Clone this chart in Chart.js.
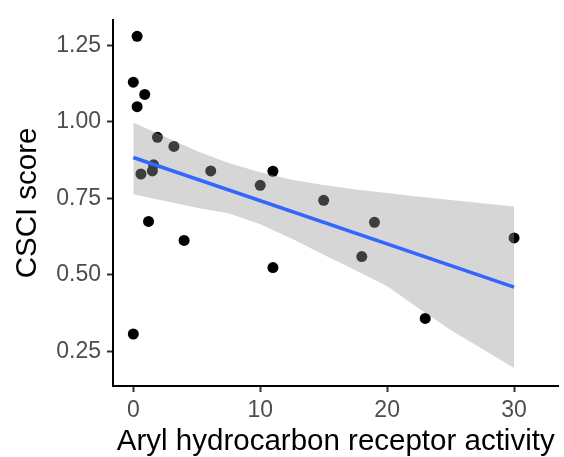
<!DOCTYPE html>
<html>
<head>
<meta charset="utf-8">
<script src="https://cdn.jsdelivr.net/npm/chart.js@4"></script>
<style>
  html, body { margin: 0; padding: 0; background: #fff; }
  canvas { display: block; }
</style>
</head>
<body>
<canvas id="scatterChart" width="564" height="457"></canvas>
<script>
// points
const arylActivity = [0.3, 0, 0.9, 0.3, 1.9, 3.2, 1.6, 0.6, 1.5, 6.1, 1.2, 4.0, 0, 10.0, 11.0, 11.0, 15.0, 19.0, 18.0, 23.0, 30.0];
const csciScore = [1.28, 1.13, 1.09, 1.05, 0.95, 0.92, 0.86, 0.83, 0.84, 0.84, 0.675, 0.613, 0.307, 0.793, 0.839, 0.524, 0.744, 0.672, 0.56, 0.358, 0.621];

// linear fit + confidence band
const fitX = [0, 30];
const fitY = [0.884, 0.46];
const bandX = [0, 2.5, 5, 7.5, 10, 12.5, 15, 17.5, 20, 22.5, 25, 27.5, 30];
const bandUpper = [0.998, 0.952, 0.905, 0.866, 0.836, 0.811, 0.794, 0.779, 0.768, 0.756, 0.745, 0.734, 0.724];
const bandLower = [0.764, 0.742, 0.72, 0.702, 0.666, 0.618, 0.566, 0.515, 0.463, 0.39, 0.32, 0.258, 0.196];

const xTicks = [0, 10, 20, 30];
const yTicks = [0.25, 0.5, 0.75, 1.0, 1.25];

function toPoints(xs, ys) {
    return xs.map((x, i) => ({ x: x, y: ys[i] }));
}

const fontFamily = '"Liberation Sans", Arial, sans-serif';

const ctx = document.getElementById('scatterChart').getContext('2d');

const data = {
    datasets: [{
        label: 'fit',
        data: toPoints(fitX, fitY),
        borderColor: '#3366FF',
        borderWidth: 3.5,
        pointRadius: 0,
        fill: false,
        order: 0
    }, {
        label: 'upper',
        data: toPoints(bandX, bandUpper),
        borderWidth: 0,
        borderColor: 'rgba(0,0,0,0)',
        backgroundColor: 'rgba(153,153,153,0.4)',
        pointRadius: 0,
        fill: '+1',
        order: 1
    }, {
        label: 'lower',
        data: toPoints(bandX, bandLower),
        borderWidth: 0,
        borderColor: 'rgba(0,0,0,0)',
        pointRadius: 0,
        fill: false,
        order: 2
    }, {
        label: 'sites',
        data: toPoints(arylActivity, csciScore),
        showLine: false,
        pointRadius: 5.5,
        pointBorderWidth: 0,
        pointBackgroundColor: '#000',
        order: 3
    }]
};

const config = {
    type: 'line',
    data: data,
    options: {
        responsive: false,
        animation: false,
        layout: { padding: { top: 15, right: 0, left: 0, bottom: 0 } },
        plugins: {
            legend: { display: false },
            tooltip: { enabled: false }
        },
        scales: {
            x: {
                type: 'linear',
                min: -1.6,
                max: 33.5,
                afterBuildTicks: (scale) => { scale.ticks = xTicks.map(v => ({ value: v })); },
                afterFit: (scale) => { scale.height = 71; },
                border: { display: true, color: '#000', width: 2 },
                grid: { drawOnChartArea: false, drawTicks: true, tickLength: 6, tickColor: '#333', tickWidth: 2 },
                ticks: {
                    color: '#4D4D4D',
                    padding: 5,
                    font: { family: fontFamily, size: 23 },
                    maxRotation: 0
                },
                title: {
                    display: true,
                    text: 'Aryl hydrocarbon receptor activity',
                    color: '#000',
                    font: { family: fontFamily, size: 29.5, lineHeight: 1 },
                    padding: { top: 0, bottom: 0 }
                }
            },
            y: {
                type: 'linear',
                min: 0.137,
                max: 1.334,
                afterBuildTicks: (scale) => { scale.ticks = yTicks.map(v => ({ value: v })); },
                afterFit: (scale) => { scale.width = 113; },
                border: { display: true, color: '#000', width: 2 },
                grid: { drawOnChartArea: false, drawTicks: true, tickLength: 6, tickColor: '#333', tickWidth: 2 },
                ticks: {
                    color: '#4D4D4D',
                    padding: 6,
                    font: { family: fontFamily, size: 23 },
                    callback: (value) => value.toFixed(2)
                },
                title: {
                    display: true,
                    text: 'CSCI score',
                    color: '#000',
                    font: { family: fontFamily, size: 29.5, lineHeight: 1.2 },
                    padding: { top: 10, bottom: 0 }
                }
            }
        }
    }
};

const scatterChart = new Chart(ctx, config);
</script>
</body>
</html>
